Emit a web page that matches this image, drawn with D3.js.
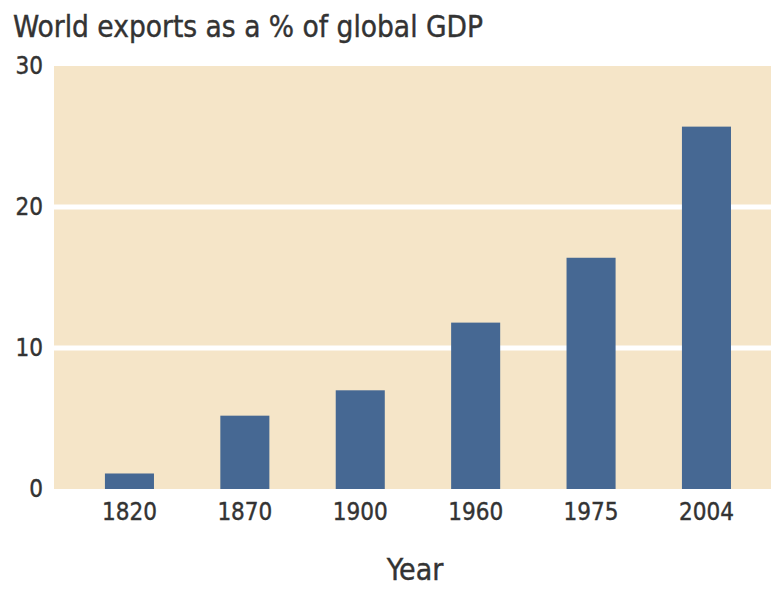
<!DOCTYPE html>
<html>
<head>
<meta charset="utf-8">
<script src="https://cdn.jsdelivr.net/npm/d3@7/dist/d3.min.js"></script>
<style>
  html, body { margin: 0; padding: 0; background: #ffffff; }
  svg { display: block; }
  text { font-family: "DejaVu Sans Condensed", "Liberation Sans Narrow", sans-serif; fill: #333333; stroke: #333333; stroke-width: 0.4px; }
</style>
</head>
<body>
<svg id="chart" width="771" height="590"></svg>
<script>
const years = ["1820", "1870", "1900", "1960", "1975", "2004"];
const exportShare = [1.1, 5.2, 7.0, 11.8, 16.4, 25.7];
const yTicks = [0, 10, 20, 30];
const gridTicks = [10, 20];
const titleText = "World exports as a % of global GDP";
const xAxisTitle = "Year";

const svg = d3.select("#chart");
const plot = { left: 54, right: 771, top: 66, bottom: 489 };

const x = d3.scaleBand()
  .domain(years)
  .range([plot.left, plot.right])
  .paddingInner(0.575)
  .paddingOuter(0.394)
  .align(0.56);

const y = d3.scaleLinear().domain([0, 30]).range([plot.bottom, plot.top]);

// background
svg.append("rect")
  .attr("x", plot.left).attr("y", plot.top)
  .attr("width", plot.right - plot.left)
  .attr("height", plot.bottom - plot.top)
  .attr("fill", "#f5e5c8");

// gridlines
svg.append("g").selectAll("line").data(gridTicks).join("line")
  .attr("x1", plot.left).attr("x2", plot.right)
  .attr("y1", d => y(d)).attr("y2", d => y(d))
  .attr("stroke", "#ffffff").attr("stroke-width", 5);

// bars
svg.append("g").selectAll("rect").data(years).join("rect")
  .attr("x", d => x(d))
  .attr("width", x.bandwidth())
  .attr("y", (d, i) => y(exportShare[i]))
  .attr("height", (d, i) => y(0) - y(exportShare[i]))
  .attr("fill", "#466893");

// y axis labels
const yAxis = d3.axisLeft(y).tickValues(yTicks).tickSize(0).tickPadding(0).tickFormat(d3.format("d"));
const gy = svg.append("g").attr("transform", `translate(43,0)`).call(yAxis);
gy.select(".domain").remove();
gy.selectAll("text")
  .attr("font-size", 24)
  .attr("fill", "#333333")
  .style("font-family", '"DejaVu Sans Condensed", "Liberation Sans Narrow", sans-serif')
  .attr("dy", "0.3em");

// x axis labels
const xAxis = d3.axisBottom(x).tickSize(0).tickPadding(0);
const gx = svg.append("g").attr("transform", `translate(0,${plot.bottom})`).call(xAxis);
gx.select(".domain").remove();
gx.selectAll("text")
  .attr("font-size", 24)
  .attr("fill", "#333333")
  .style("font-family", '"DejaVu Sans Condensed", "Liberation Sans Narrow", sans-serif')
  .attr("y", 31)
  .attr("dy", 0);

// x axis title
svg.append("text")
  .attr("x", 415).attr("y", 580)
  .attr("text-anchor", "middle")
  .attr("font-size", 30)
  .text(xAxisTitle);

// chart title
svg.append("text")
  .attr("x", 13).attr("y", 37)
  .attr("font-size", 30)
  .attr("textLength", 470)
  .attr("lengthAdjust", "spacingAndGlyphs")
  .text(titleText);
</script>
</body>
</html>
